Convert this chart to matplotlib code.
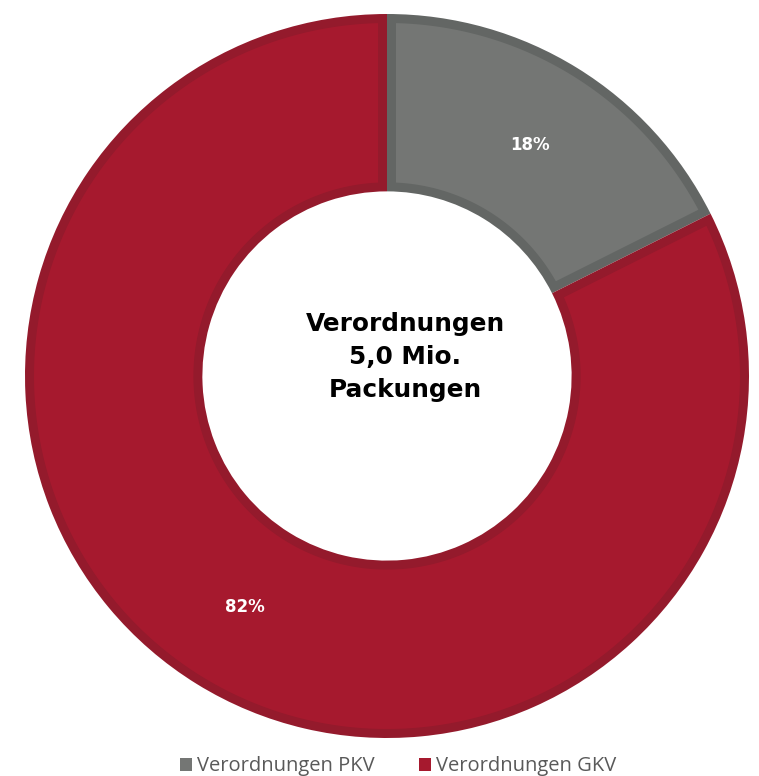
import numpy as np
import matplotlib
matplotlib.use("Agg")
import matplotlib.pyplot as plt
from matplotlib.patches import Patch, Polygon

# ---------------------------------------------------------------------------
# Daten
# ---------------------------------------------------------------------------
labels = ["Verordnungen PKV", "Verordnungen GKV"]
shares = [17.6, 82.4]                      # Prozent
pct_text = ["18%", "82%"]
center_text = "Verordnungen\n5,0 Mio.\nPackungen"

FILL = ["#747674", "#A6192E"]
EDGE = ["#636664", "#941A2C"]

W, H = 759, 776
fig = plt.figure(figsize=(W / 100, H / 100), dpi=100)
ax = fig.add_axes([0, 0, 1, 1])

cx, cy, R = 387, 400, 362
RING = R * 0.49
B = 9.0        # Randbreite (innen), px

# Grundring in Randfarbe
wedges, _ = ax.pie(shares, colors=EDGE, startangle=90, counterclock=False,
                   center=(cx, cy), radius=R, frame=True,
                   wedgeprops=dict(width=RING, edgecolor="none"))
ax.set_xlim(0, W)
ax.set_ylim(0, H)
ax.set_aspect("equal")
ax.axis("off")

# eingerueckte Flaeche in Fuellfarbe -> Rand liegt innen (wie Excel)
r_in = R - RING
for w, fc in zip(wedges, FILL):
    t1, t2 = np.deg2rad(w.theta1), np.deg2rad(w.theta2)
    ro, ri = R - B, r_in + B
    do, di = np.arcsin(B / ro), np.arcsin(B / ri)
    a_out = np.linspace(t1 + do, t2 - do, 200)
    a_in = np.linspace(t2 - di, t1 + di, 200)
    xs = np.r_[cx + ro * np.cos(a_out), cx + ri * np.cos(a_in)]
    ys = np.r_[cy + ro * np.sin(a_out), cy + ri * np.sin(a_in)]
    ax.add_patch(Polygon(np.c_[xs, ys], closed=True, facecolor=fc,
                         edgecolor="none"))

ang = 90.0
for s, txt in zip(shares, pct_text):
    mid = np.deg2rad(ang - s * 3.6 / 2)
    ax.text(cx + 0.75 * R * np.cos(mid), cy + 0.75 * R * np.sin(mid), txt,
            ha="center", va="center", color="white", fontsize=12,
            fontweight="bold", family="DejaVu Sans")
    ang -= s * 3.6

ax.text(405, 419, center_text, ha="center", va="center", fontsize=17.8,
        fontweight="bold", family="DejaVu Sans", linespacing=1.45, color="black")

handles = [Patch(facecolor=c, edgecolor="none") for c in FILL]
fig.legend(handles, labels, loc="lower center", bbox_to_anchor=(0.524, -0.024),
           ncol=2, frameon=False, prop=dict(family="Open Sans", size=14.5),
           labelcolor="#595959", handlelength=0.6, handleheight=0.6,
           handletextpad=0.25, columnspacing=2.2)

fig.savefig("out.png", dpi=100)
